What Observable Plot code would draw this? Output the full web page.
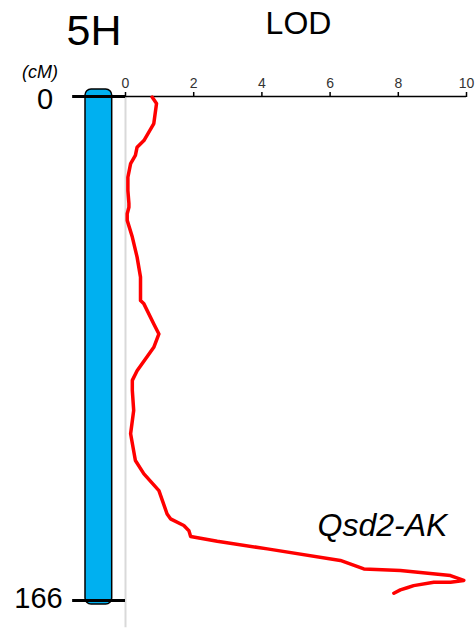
<!DOCTYPE html>
<html>
<head>
<meta charset="utf-8">
<script src="https://cdn.jsdelivr.net/npm/d3@7"></script>
<script src="https://cdn.jsdelivr.net/npm/@observablehq/plot@0.6"></script>
<style>
  html, body { margin: 0; padding: 0; background: #fff; }
  svg { font-family: "Liberation Sans", Arial, sans-serif; }
</style>
</head>
<body>
<div id="chart"></div>
<script>
// ---- data ----
const chromosome = "5H";
const valueLabel = "LOD";
const unitLabel = "(cM)";
const qtlName = "Qsd2-AK";
const xTicks = [0, 2, 4, 6, 8, 10];
const yTicks = [0, 166];
// position along chromosome (cM)
const positionCM = [0.2, 2.3, 8.9, 14.5, 16.7, 19.4, 22.1, 26.6, 31.0, 35.2, 36.5, 38.6, 40.8, 46.3, 52.9, 59.5, 67.2, 68.3, 74.9, 78.2, 82.6, 90.3, 93.5, 96.8, 103.4, 111.1, 119.9, 124.3, 129.8, 137.5, 139.1, 141.3, 143.0, 144.9, 146.5, 149.0, 152.8, 155.6, 156.1, 157.8, 159.4, 160.0, 160.0, 161.1, 161.8, 162.5, 163.6];
// LOD score
const lodScore = [0.78, 0.91, 0.83, 0.54, 0.34, 0.29, 0.15, 0.07, 0.07, 0.10, 0.10, 0.05, 0.05, 0.20, 0.34, 0.44, 0.44, 0.54, 0.83, 0.98, 0.83, 0.34, 0.20, 0.20, 0.24, 0.15, 0.29, 0.54, 0.98, 1.22, 1.32, 1.71, 1.86, 1.91, 2.69, 4.16, 6.30, 6.99, 8.06, 9.53, 9.92, 9.53, 9.04, 8.45, 8.26, 8.06, 7.87];

const lodData = positionCM.map((cm, i) => ({cm, lod: lodScore[i]}));
const chromData = [{start: yTicks[0], end: yTicks[1]}];

const font = "Liberation Sans, Arial, sans-serif";

const chart = Plot.plot({
  width: 476,
  height: 629,
  marginLeft: 125,
  marginRight: 10,
  marginTop: 96,
  marginBottom: 29,
  style: {fontFamily: font, background: "#fff", overflow: "visible"},
  x: {domain: [0, 10], axis: null},
  y: {domain: [0, 166], reverse: true, axis: null},
  marks: [
    // light gray baseline at LOD 0
    Plot.ruleX([0], {y1: 0, y2: 175, stroke: "#d9d9d9", strokeWidth: 2}),
    // chromosome bar
    Plot.rect(chromData, {
      x1: -1.173, x2: -0.39, y1: "start", y2: "end",
      fill: "#00B0F0", stroke: "#000", strokeWidth: 1.5,
      rx: 6, insetTop: -7, insetBottom: -4
    }),
    // chromosome end ticks
    Plot.ruleY(yTicks, {x1: -1.55, x2: 0, stroke: "#000", strokeWidth: 3}),
    // top axis line
    Plot.ruleY([0], {x1: 0, x2: 10, stroke: "#000", strokeWidth: 1.5}),
    Plot.axisX({
      anchor: "top", ticks: xTicks, tickSize: 5, tickFormat: () => "",
      stroke: "#000", strokeWidth: 1.5, label: null
    }),
    Plot.text(xTicks, {
      x: d => d, text: d => String(d), frameAnchor: "top", dy: -13,
      fontSize: 14, fill: "#333", textAnchor: "middle", lineAnchor: "middle"
    }),
    // y end labels
    Plot.text(yTicks.filter(d => d === 0), {
      y: d => d, text: d => String(d), frameAnchor: "left",
      dx: -80.5, dy: 3, fontSize: 29, textAnchor: "middle", lineAnchor: "middle", fill: "#000"
    }),
    Plot.text(yTicks.filter(d => d !== 0), {
      y: d => d, text: d => String(d), frameAnchor: "left",
      dx: -87, dy: -2, fontSize: 29, textAnchor: "middle", lineAnchor: "middle", fill: "#000"
    }),
    // LOD curve
    Plot.line(lodData, {
      x: "lod", y: "cm", stroke: "#ff0000", strokeWidth: 3.5,
      strokeLinejoin: "round", strokeLinecap: "round"
    }),
    // titles / annotations
    Plot.text([chromosome], {
      text: d => d, frameAnchor: "top-left", dx: -31.5, dy: -65,
      fontSize: 43, textAnchor: "middle", lineAnchor: "middle", fill: "#000"
    }),
    Plot.text([valueLabel], {
      text: d => d, frameAnchor: "top-left", dx: 173, dy: -72.5,
      fontSize: 32, textAnchor: "middle", lineAnchor: "middle", fill: "#000"
    }),
    Plot.text([unitLabel], {
      text: d => d, frameAnchor: "top-left", dx: -85.5, dy: -24,
      fontSize: 18, fontStyle: "italic", letterSpacing: "0.5px", textAnchor: "middle", lineAnchor: "middle", fill: "#000"
    }),
    Plot.text([qtlName], {
      text: d => d, frameAnchor: "top-left", dx: 257, dy: 429,
      fontSize: 32, fontStyle: "italic", textAnchor: "middle", lineAnchor: "middle", fill: "#000"
    })
  ]
});

document.getElementById("chart").appendChild(chart);
</script>
</body>
</html>
